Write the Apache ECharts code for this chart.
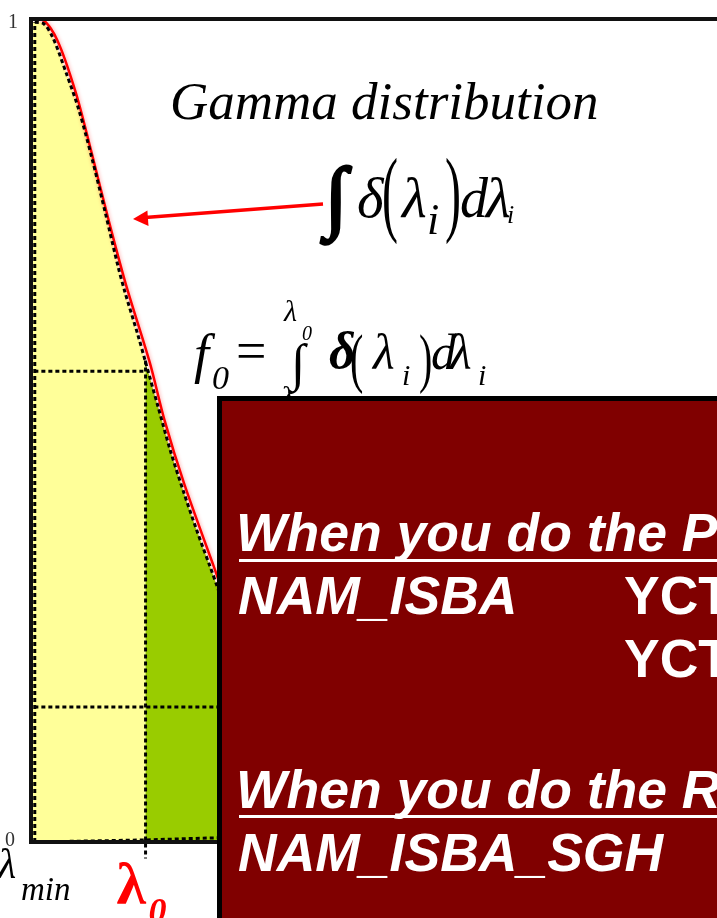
<!DOCTYPE html>
<html>
<head>
<meta charset="utf-8">
<script src="https://cdn.jsdelivr.net/npm/echarts@6/dist/echarts.min.js"></script>
<style>
  html, body { margin: 0; padding: 0; background: #ffffff; }
  #chart { width: 717px; height: 918px; }
</style>
</head>
<body>
<div id="chart"></div>
<script>
// Observed size distribution: outline of the shaded area
const lambdaObs = [0.11, 0.34, 0.63, 1.03, 1.40, 1.77, 2.17, 2.54, 2.74, 3.11, 3.34, 3.69, 4.06, 4.46, 4.83, 5.20, 6, 7, 8, 9, 10, 12, 14, 17, 20];
const deltaObs  = [0.996, 0.995, 0.978, 0.934, 0.889, 0.832, 0.764, 0.699, 0.668, 0.617, 0.583, 0.531, 0.476, 0.424, 0.379, 0.337, 0.25, 0.19, 0.14, 0.10, 0.07, 0.035, 0.015, 0.005, 0.002];

// Fitted gamma distribution (red curve)
const lambdaGamma = [0.11, 0.34, 0.77, 1.31, 1.77, 2.26, 2.77, 3.46, 3.89, 4.46, 5.31, 6, 7, 8, 9, 10, 12, 14, 17, 20];
const deltaGamma  = [1.0, 0.999, 0.974, 0.910, 0.837, 0.756, 0.677, 0.583, 0.513, 0.436, 0.337, 0.26, 0.195, 0.145, 0.105, 0.075, 0.037, 0.017, 0.006, 0.002];

// Bottom edge of the observed area
const lambdaBase = [0.11, 3.34, 5.3, 20];
const deltaBase  = [0.0, 0.0025, 0.005, 0.01];

const lambdaMin = 0;
const lambda0 = 3.34;     // cut-off size
const f0Level = 0.572;    // f0 guide level
const lowLevel = 0.164;   // lower guide level
const guideLeft = -0.31;  // guides start left of the axis

const yTickValues = [0, 1];
const xTickValues = [lambdaMin, lambda0];
const xTickLabels = [['λ', 'min'], ['λ', '0']];

const pairs = (xs, ys) => xs.map((x, i) => [x, ys[i]]);
const obs = pairs(lambdaObs, deltaObs);
const yellowData = [[lambdaMin, deltaObs[0]]].concat(obs.filter(p => p[0] <= lambda0));
const greenData = obs.filter(p => p[0] >= lambda0);

const GRID = { left: 31, top: 19, width: 700, height: 823 };
const DOT = { color: '#000', width: 3, type: [4, 3], cap: 'butt' };

const chart = echarts.init(document.getElementById('chart'), null, { renderer: 'canvas' });

chart.setOption({
  animation: false,
  backgroundColor: '#ffffff',
  grid: { left: GRID.left, top: GRID.top, width: GRID.width, height: GRID.height, show: false },
  xAxis: {
    type: 'value', min: 0, max: 20,
    axisLine: { show: false }, axisTick: { show: false },
    axisLabel: { show: false }, splitLine: { show: false }
  },
  yAxis: {
    type: 'value', min: 0, max: 1, interval: 1,
    axisLine: { show: false }, axisTick: { show: false }, splitLine: { show: false },
    axisLabel: {
      margin: 13, color: '#333', fontSize: 20, fontFamily: 'Liberation Serif',
      formatter: v => (yTickValues.indexOf(v) < 0 ? '' : (v === 1 ? '{top|' + v + '}' : '{bot|' + v + '}')),
      rich: {
        top: { fontSize: 20, fontFamily: 'Liberation Serif', color: '#333', padding: [7, 0, 0, 0] },
        bot: { fontSize: 20, fontFamily: 'Liberation Serif', color: '#333', padding: [0, 3, 2, 0] }
      }
    }
  },
  series: [
    {
      name: 'below λ0', type: 'line', data: yellowData, smooth: 0.3, symbol: 'none',
      lineStyle: { width: 0 }, areaStyle: { color: '#ffff99', opacity: 1 }, z: 1
    },
    {
      name: 'above λ0', type: 'line', data: greenData, smooth: 0.3, symbol: 'none',
      lineStyle: { width: 0 }, areaStyle: { color: '#99cc00', opacity: 1 }, z: 1
    },
    {
      name: 'gamma', type: 'line', data: pairs(lambdaGamma, deltaGamma), smooth: 0.3, symbol: 'none',
      lineStyle: { color: '#ff0000', width: 2.5, shadowColor: 'rgba(255,0,0,0.45)', shadowBlur: 4 }, z: 3
    },
    {
      name: 'observed', type: 'line', data: obs, smooth: 0.3, symbol: 'none',
      lineStyle: DOT, z: 4
    },
    {
      name: 'left edge', type: 'line', data: [[lambdaObs[0], deltaBase[0]], [lambdaObs[0], deltaObs[0]]],
      symbol: 'none', lineStyle: DOT, z: 4
    },
    {
      name: 'base', type: 'line', data: pairs(lambdaBase, deltaBase), symbol: 'none',
      lineStyle: DOT, z: 4
    },
    {
      name: 'f0 guide', type: 'line', data: [[guideLeft, f0Level], [lambda0, f0Level]],
      symbol: 'none', clip: false, lineStyle: DOT, z: 4
    },
    {
      name: 'λ0 guide', type: 'line', data: [[lambda0, 0.585], [lambda0, -0.02]],
      symbol: 'none', clip: false, lineStyle: DOT, z: 4
    },
    {
      name: 'low guide', type: 'line', data: [[guideLeft, lowLevel], [10, lowLevel]],
      symbol: 'none', clip: false, lineStyle: DOT, z: 4
    }
  ]
});

// text placed by its baseline
function txt(id, text, x, baseline, size, fontSpec, fill, styleExtra, elExtra) {
  return Object.assign({
    id: id, type: 'text', x: x, y: baseline - 0.345 * size, z: 100,
    style: Object.assign({
      text: text, font: fontSpec.replace('#', size + 'px'), fill: fill || '#000',
      align: 'left', verticalAlign: 'middle'
    }, styleExtra || {})
  }, elExtra || {});
}
// tall, thin bracket centred on a given y
function paren(id, ch, x, centerY, size, scaleY) {
  return {
    id: id, type: 'text', x: x, y: centerY - 0.09 * size * scaleY, scaleY: scaleY, z: 100,
    style: { text: ch, font: size + 'px "Liberation Serif"', fill: '#000', align: 'left', verticalAlign: 'middle' }
  };
}
const SERIF_I = 'italic # "Liberation Serif"';
const SERIF = '# "Liberation Serif"';
const SERIF_BI = 'italic bold # "Liberation Serif"';
const SANS_BI = 'italic bold # "Liberation Sans"';
const SANS_B = 'bold # "Liberation Sans"';

const gfx = [];

// plot frame
gfx.push({
  id: 'frame', type: 'rect', z: 50,
  shape: { x: GRID.left, y: GRID.top, width: GRID.width, height: GRID.height },
  style: { fill: 'none', stroke: '#111', lineWidth: 4 }
});

// x tick labels
xTickValues.forEach((v, i) => {
  const px = chart.convertToPixel({ xAxisIndex: 0 }, v);
  if (i === 0) {
    gfx.push(txt('xl0a', xTickLabels[i][0], px - 33, 881, 42, SERIF_I));
    gfx.push(txt('xl0b', xTickLabels[i][1], px - 10, 903, 33, SERIF_I));
  } else {
    gfx.push(txt('xl1a', xTickLabels[i][0], px - 29, 909, 60, 'bold # "Liberation Serif"', '#ff0000'));
    gfx.push(txt('xl1b', xTickLabels[i][1], px + 3, 926, 36, SERIF_BI, '#ff0000'));
  }
});

// title
gfx.push(txt('title', 'Gamma distribution', 170, 123, 53, SERIF_I));

// arrow pointing at the gamma curve
gfx.push({
  id: 'arrowLine', type: 'line', z: 100,
  shape: { x1: 323, y1: 204, x2: 145, y2: 217.5 },
  style: { stroke: '#ff0000', lineWidth: 3.5 }
});
gfx.push({
  id: 'arrowHead', type: 'polygon', z: 100,
  shape: { points: [[133, 219], [148.5, 226], [147.4, 210.5]] },
  style: { fill: '#ff0000' }
});

// ∫ δ(λi) dλi
gfx.push(txt('i1', '∫', 325, 230, 80, SERIF, '#000', { stroke: '#000', lineWidth: 3 }));
gfx.push(txt('i1d', 'δ', 357, 222, 57, SERIF_I));
gfx.push(paren('i1p', '(', 382, 207.5, 48, 2.0));
gfx.push(txt('i1l', 'λ', 402, 222, 57, SERIF_I));
gfx.push(txt('i1i', 'i', 427, 238, 44, SERIF_I));
gfx.push(paren('i1q', ')', 445, 207.5, 48, 2.0));
gfx.push(txt('i1dd', 'd', 460, 222, 56, SERIF_I));
gfx.push(txt('i1l2', 'λ', 486, 222, 57, SERIF_I));
gfx.push(txt('i1i2', 'i', 507, 225, 26, SERIF_I));

// f0 = ∫ from λmin to λ0 of δ(λi) dλi
gfx.push(txt('f', 'f', 194, 376, 54, SERIF_I));
gfx.push(txt('f0', '0', 212, 392, 34, SERIF_I));
gfx.push(txt('eq', '=', 236, 373, 54, SERIF));
gfx.push(txt('upl', 'λ', 284, 323, 30, SERIF_I));
gfx.push(txt('up0', '0', 302, 342, 20, SERIF_I));
gfx.push(txt('int2', '∫', 291, 384, 52, SERIF));
gfx.push(txt('lol', 'λ', 281, 409, 30, SERIF_I));
gfx.push(txt('f2d', 'δ', 329, 373, 52, SERIF_BI));
gfx.push(paren('f2p', '(', 350, 368.5, 40, 1.65));
gfx.push(txt('f2l', 'λ', 373, 373, 50, SERIF_I));
gfx.push(txt('f2i', 'i', 402, 387, 30, SERIF_I));
gfx.push(paren('f2q', ')', 419, 368.5, 40, 1.65));
gfx.push(txt('f2dd', 'd', 431, 373, 50, SERIF_I));
gfx.push(txt('f2l2', 'λ', 450, 373, 50, SERIF_I));
gfx.push(txt('f2i2', 'i', 478, 387, 30, SERIF_I));

// dark red note box
gfx.push({
  id: 'box', type: 'rect', z: 200,
  shape: { x: 219.5, y: 398.5, width: 620, height: 620 },
  style: { fill: '#800000', stroke: '#000', lineWidth: 5 }
});
const W = '#ffffff';
function boxTxt(id, text, x, baseline, fontSpec) {
  const t = txt(id, text, x, baseline, 53.5, fontSpec, W);
  t.z = 210;
  return t;
}
gfx.push(boxTxt('b1', 'When you do the P', 236, 555, SANS_BI));
gfx.push({ id: 'u1', type: 'line', z: 210, shape: { x1: 239, y1: 560.5, x2: 730, y2: 560.5 }, style: { stroke: W, lineWidth: 3 } });
gfx.push(boxTxt('b2', 'NAM_ISBA', 238, 618, SANS_BI));
gfx.push(boxTxt('b3', 'YCT', 624, 618, SANS_B));
gfx.push(boxTxt('b4', 'YCT', 624, 681, SANS_B));
gfx.push(boxTxt('b5', 'When you do the R', 236, 812, SANS_BI));
gfx.push({ id: 'u2', type: 'line', z: 210, shape: { x1: 239, y1: 816.5, x2: 730, y2: 816.5 }, style: { stroke: W, lineWidth: 3 } });
gfx.push(boxTxt('b6', 'NAM_ISBA_SGH', 238, 875, SANS_BI));

chart.setOption({ graphic: gfx });
</script>
</body>
</html>
